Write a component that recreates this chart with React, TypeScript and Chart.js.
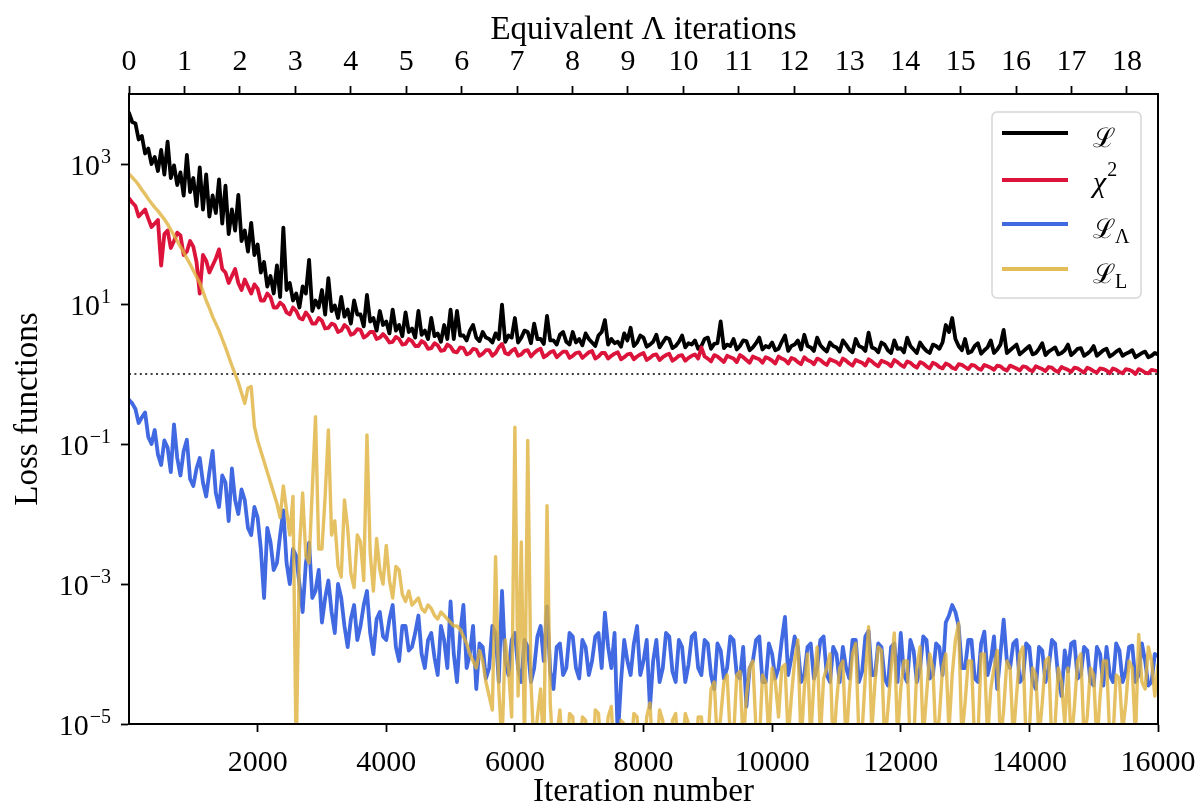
import React, { useEffect, useRef } from 'react';
import { Chart, registerables } from 'chart.js';

Chart.register(...registerables);

const SERIF = '"Liberation Serif", "DejaVu Serif", serif';

// curves are read every 100 iterations, plus a half-step value in between
const ITER_STEP = 100;
const ITER_MAX = 16000;
// equivalent Lambda iterations at the right edge of the frame
const LAMBDA_MAX = 18.56;

const bottomTicks = [2000, 4000, 6000, 8000, 10000, 12000, 14000, 16000];
const topTicks = [0, 1, 2, 3, 4, 5, 6, 7, 8, 9, 10, 11, 12, 13, 14, 15, 16, 17, 18];
const yExponents = [-5, -3, -1, 1, 3];

// log10 of each loss at iterations 0, 100, ..., 16000
const blackLog = [
  3.73, 3.58, 3.40, 3.22, 3.10, 3.20, 3.32, 2.98, 2.88, 3.13,
  2.80, 2.95, 2.85, 2.55, 2.78, 2.69, 2.35, 2.56, 2.05, 2.16,
  1.85, 1.60, 1.40, 1.55, 2.09, 1.30, 1.15, 1.25, 1.63, 1.05,
  1.20, 1.37, 0.98, 1.10, 0.92, 1.05, 0.85, 1.13, 0.80, 0.90,
  0.75, 0.92, 0.70, 0.88, 0.65, 0.90, 0.62, 0.80, 0.58, 0.70,
  0.92, 0.90, 0.55, 0.62, 0.52, 0.60, 0.50, 0.58, 0.99, 0.55,
  0.80, 0.52, 0.60, 0.72, 0.50, 0.83, 0.48, 0.56, 0.46, 0.60,
  0.50, 0.58, 0.45, 0.55, 0.77, 0.50, 0.46, 0.58, 0.66, 0.45,
  0.52, 0.42, 0.56, 0.45, 0.50, 0.40, 0.55, 0.44, 0.48, 0.40,
  0.52, 0.43, 0.75, 0.42, 0.50, 0.40, 0.47, 0.38, 0.52, 0.40,
  0.45, 0.36, 0.55, 0.40, 0.48, 0.56, 0.38, 0.52, 0.36, 0.45,
  0.38, 0.48, 0.35, 0.50, 0.38, 0.59, 0.36, 0.45, 0.34, 0.48,
  0.37, 0.52, 0.35, 0.45, 0.33, 0.42, 0.36, 0.70, 0.80, 0.40,
  0.50, 0.32, 0.44, 0.34, 0.48, 0.35, 0.63, 0.34, 0.42, 0.32,
  0.40, 0.30, 0.44, 0.32, 0.38, 0.30, 0.42, 0.31, 0.37, 0.29,
  0.40, 0.30, 0.36, 0.28, 0.35, 0.29, 0.34, 0.27, 0.32, 0.26,
  0.28,
];
// log10 at iterations 50, 150, ..., 15950
const blackMidLog = [
  3.60, 3.35, 3.15, 3.00, 2.90, 2.85, 2.80, 2.70, 2.55, 2.60,
  2.40, 2.35, 2.25, 2.30, 2.15, 2.00, 2.05, 1.90, 1.75, 1.70,
  1.45, 1.25, 1.15, 1.10, 1.20, 1.05, 0.95, 1.15, 0.90, 0.95,
  0.85, 0.90, 0.80, 0.82, 0.72, 0.85, 0.68, 0.75, 0.62, 0.70,
  0.58, 0.62, 0.54, 0.60, 0.52, 0.56, 0.50, 0.54, 0.46, 0.50,
  0.50, 0.55, 0.48, 0.70, 0.47, 0.52, 0.45, 0.50, 0.46, 0.52,
  0.45, 0.62, 0.44, 0.50, 0.43, 0.48, 0.42, 0.60, 0.42, 0.45,
  0.41, 0.50, 0.40, 0.60, 0.42, 0.44, 0.39, 0.48, 0.40, 0.55,
  0.39, 0.46, 0.38, 0.52, 0.37, 0.46, 0.38, 0.42, 0.36, 0.50,
  0.36, 0.44, 0.37, 0.40, 0.35, 0.48, 0.34, 0.44, 0.35, 0.38,
  0.34, 0.46, 0.33, 0.42, 0.35, 0.40, 0.33, 0.41, 0.32, 0.40,
  0.32, 0.42, 0.31, 0.40, 0.33, 0.38, 0.31, 0.42, 0.30, 0.36,
  0.31, 0.40, 0.30, 0.38, 0.30, 0.40, 0.45, 0.60, 0.50, 0.34,
  0.30, 0.40, 0.29, 0.38, 0.30, 0.42, 0.30, 0.38, 0.28, 0.36,
  0.28, 0.36, 0.27, 0.35, 0.28, 0.34, 0.27, 0.36, 0.26, 0.33,
  0.26, 0.34, 0.25, 0.32, 0.26, 0.31, 0.24, 0.30, 0.24, 0.30,
];

const redLog = [
  2.51, 2.40, 2.30, 2.22, 2.15, 1.55, 2.05, 1.90, 1.98, 1.75,
  1.82, 1.15, 1.62, 1.55, 1.78, 1.45, 1.40, 1.30, 1.35, 1.15,
  1.22, 1.05, 1.10, 0.95, 0.98, 0.85, 0.90, 0.78, 0.82, 0.72,
  0.76, 0.66, 0.70, 0.62, 0.66, 0.58, 0.63, 0.55, 0.60, 0.52,
  0.52, 0.46, 0.50, 0.43, 0.47, 0.40, 0.44, 0.37, 0.41, 0.34,
  0.39, 0.31, 0.37, 0.30, 0.35, 0.29, 0.34, 0.30, 0.43, 0.28,
  0.36, 0.28, 0.34, 0.30, 0.36, 0.27, 0.33, 0.28, 0.32, 0.26,
  0.31, 0.27, 0.33, 0.25, 0.30, 0.26, 0.31, 0.24, 0.29, 0.25,
  0.30, 0.23, 0.28, 0.24, 0.29, 0.22, 0.27, 0.23, 0.28, 0.38,
  0.22, 0.27, 0.21, 0.26, 0.22, 0.27, 0.20, 0.25, 0.21, 0.24,
  0.19, 0.25, 0.20, 0.23, 0.17, 0.24, 0.18, 0.22, 0.16, 0.21,
  0.17, 0.22, 0.15, 0.20, 0.16, 0.21, 0.14, 0.19, 0.15, 0.20,
  0.13, 0.18, 0.12, 0.17, 0.11, 0.16, 0.10, 0.15, 0.09, 0.14,
  0.10, 0.13, 0.08, 0.13, 0.09, 0.12, 0.07, 0.12, 0.08, 0.11,
  0.06, 0.11, 0.07, 0.10, 0.05, 0.10, 0.06, 0.09, 0.05, 0.09,
  0.04, 0.08, 0.05, 0.08, 0.03, 0.07, 0.04, 0.07, 0.02, 0.06,
  0.04,
];
const redMidLog = [
  2.45, 2.25, 2.35, 2.10, 2.20, 2.00, 1.80, 2.02, 1.70, 1.90,
  1.60, 1.70, 1.45, 1.65, 1.50, 1.30, 1.50, 1.20, 1.25, 1.28,
  1.05, 1.15, 0.95, 1.02, 0.88, 0.95, 0.80, 0.88, 0.72, 0.80,
  0.65, 0.72, 0.60, 0.70, 0.56, 0.64, 0.52, 0.60, 0.50, 0.57,
  0.45, 0.53, 0.42, 0.50, 0.40, 0.47, 0.36, 0.44, 0.33, 0.42,
  0.32, 0.38, 0.28, 0.36, 0.26, 0.34, 0.26, 0.38, 0.30, 0.33,
  0.26, 0.33, 0.25, 0.34, 0.24, 0.31, 0.24, 0.32, 0.23, 0.30,
  0.23, 0.31, 0.22, 0.30, 0.22, 0.29, 0.21, 0.28, 0.21, 0.28,
  0.20, 0.27, 0.20, 0.27, 0.19, 0.26, 0.19, 0.26, 0.22, 0.25,
  0.18, 0.25, 0.17, 0.24, 0.17, 0.24, 0.16, 0.23, 0.16, 0.22,
  0.15, 0.22, 0.15, 0.21, 0.14, 0.20, 0.14, 0.20, 0.13, 0.19,
  0.13, 0.19, 0.12, 0.18, 0.12, 0.18, 0.11, 0.17, 0.11, 0.17,
  0.10, 0.16, 0.09, 0.15, 0.08, 0.14, 0.08, 0.13, 0.07, 0.13,
  0.07, 0.12, 0.06, 0.11, 0.06, 0.11, 0.05, 0.10, 0.05, 0.10,
  0.04, 0.09, 0.04, 0.09, 0.03, 0.08, 0.03, 0.08, 0.02, 0.07,
  0.02, 0.07, 0.01, 0.06, 0.01, 0.06, 0.00, 0.05, 0.01, 0.05,
];

const blueLog = [
  -0.37, -0.50, -0.62, -0.90, -0.80, -1.30, -1.05, -0.72, -1.45, -0.94,
  -1.60, -1.20, -1.75, -1.10, -1.90, -1.55, -1.35, -2.00, -1.80, -2.30,
  -2.05, -3.20, -2.40, -2.70, -1.95, -3.00, -2.60, -3.40, -2.41, -3.10,
  -3.55, -2.95, -3.70, -3.20, -3.90, -3.30, -3.60, -3.10, -4.00, -3.40,
  -3.80, -3.30, -4.10, -3.60, -3.90, -3.45, -4.20, -3.70, -4.30, -3.80,
  -3.25, -4.40, -3.30, -4.00, -4.50, -3.90, -4.20, -3.70, -3.10, -4.30,
  -3.70, -4.40, -3.90, -4.20, -3.60, -3.32, -4.50, -3.85, -4.20, -3.75,
  -4.35, -3.90, -4.10, -3.70, -3.41, -4.20, -5.20, -3.80, -4.30, -3.60,
  -4.10, -4.77, -3.80, -4.20, -3.75, -4.40, -3.90, -4.15, -3.70, -4.30,
  -3.85, -4.50, -3.95, -4.20, -3.80, -4.35, -4.75, -4.10, -3.75, -4.40,
  -4.00, -4.20, -3.47, -4.05, -3.90, -4.30, -3.85, -4.20, -3.75, -4.40,
  -4.00, -3.90, -4.35, -3.80, -4.25, -3.67, -4.30, -3.90, -4.45, -3.85,
  -3.70, -4.40, -3.95, -4.20, -3.80, -4.30, -3.90, -3.55, -3.30, -3.60,
  -4.20, -3.80, -4.40, -3.68, -4.10, -4.50, -3.51, -4.20, -3.80, -4.35,
  -3.90, -4.50, -3.95, -4.20, -3.85, -4.60, -4.25, -3.82, -4.30, -3.95,
  -4.45, -4.00, -3.90, -4.40, -3.95, -4.25, -3.88, -4.30, -4.10, -4.40,
  -4.03,
];
const blueMidLog = [
  -0.42, -0.70, -0.55, -1.00, -1.15, -0.95, -1.40, -1.20, -1.10, -1.50,
  -1.35, -1.55, -1.40, -1.70, -1.45, -2.10, -1.80, -1.65, -2.20, -1.90,
  -2.50, -2.20, -2.80, -2.30, -2.70, -2.50, -3.00, -2.70, -3.20, -2.80,
  -3.20, -3.40, -3.00, -3.60, -3.50, -3.80, -3.30, -3.70, -3.50, -3.75,
  -3.50, -3.90, -3.60, -3.95, -3.70, -4.00, -3.80, -4.05, -3.60, -4.20,
  -4.00, -3.70, -4.20, -3.60, -3.85, -4.35, -3.60, -4.40, -4.10, -3.80,
  -4.20, -3.80, -4.40, -3.75, -4.10, -4.25, -3.90, -4.30, -3.70, -4.20,
  -3.80, -4.30, -3.75, -4.20, -3.90, -3.70, -4.40, -4.10, -3.85, -4.30,
  -3.80, -4.10, -4.40, -3.70, -4.25, -3.80, -4.40, -3.75, -4.20, -3.80,
  -4.30, -3.85, -4.35, -3.75, -4.30, -3.90, -4.20, -3.80, -4.40, -3.85,
  -4.35, -3.80, -4.30, -3.75, -4.40, -3.90, -4.35, -3.80, -4.30, -3.90,
  -4.40, -4.20, -3.80, -4.40, -3.75, -4.30, -3.85, -4.35, -3.90, -4.40,
  -4.30, -3.80, -4.40, -3.75, -4.35, -3.85, -4.30, -3.45, -3.40, -4.20,
  -3.80, -4.35, -3.85, -4.30, -3.75, -4.00, -4.10, -3.85, -4.40, -3.85,
  -4.40, -3.90, -4.40, -3.80, -4.35, -3.95, -3.85, -4.35, -3.90, -4.40,
  -3.90, -4.45, -4.30, -3.85, -4.40, -3.90, -4.40, -3.85, -4.45, -4.00,
];

const goldLog = [
  2.86, 2.76, 2.63, 2.50, 2.38, 2.27, 2.14, 1.98, 1.82, 1.65,
  1.48, 1.30, 1.05, 0.82, 0.62, 0.38, 0.12, -0.12, -0.42, -0.18,
  -0.95, -1.25, -1.55, -1.85, -1.60, -2.30, -5.50, -1.70, -2.70, -0.61,
  -2.50, -0.80, -2.10, -2.90, -2.20, -3.05, -2.40, -0.87, -3.10, -2.80,
  -2.45, -3.20, -2.80, -3.25, -3.30, -3.20, -3.40, -3.35, -3.50, -3.45,
  -3.55, -3.60, -3.75, -4.00, -4.20, -4.10, -4.60, -2.61, -5.30, -4.20,
  -0.76, -2.40, -0.95, -5.40, -4.50, -1.88, -5.50, -4.80, -5.60, -4.90,
  -5.50, -4.95, -5.70, -4.85, -5.50, -4.75, -5.60, -5.00, -5.40, -4.90,
  -5.60, -4.70, -5.50, -4.95, -5.60, -4.85, -5.40, -5.00, -5.70, -4.90,
  -5.30, -4.40, -4.90, -4.30, -5.20, -4.25, -4.60, -4.10, -5.30, -4.40,
  -4.20, -4.90, -4.15, -4.60, -3.80, -4.50, -5.20, -3.90, -4.35, -4.00,
  -4.70, -4.10, -4.55, -3.85, -5.10, -3.61, -4.40, -3.95, -4.80, -3.70,
  -4.50, -4.10, -5.30, -3.90, -4.60, -4.20, -4.90, -4.00, -4.30, -3.56,
  -4.70, -4.10, -5.20, -4.00, -4.50, -3.95, -4.80, -4.20, -4.60, -3.90,
  -5.10, -4.30, -4.70, -4.05, -5.00, -4.40, -4.20, -4.75, -4.00, -4.90,
  -4.30, -4.60, -4.10, -5.20, -4.35, -4.70, -4.20, -3.72, -4.50, -4.10,
  -4.15,
];
const goldMidLog = [
  2.81, 2.70, 2.57, 2.44, 2.33, 2.21, 2.06, 1.90, 1.74, 1.57,
  1.39, 1.18, 0.94, 0.72, 0.50, 0.25, 0.00, -0.27, -0.20, -0.75,
  -1.10, -1.40, -1.70, -2.05, -1.95, -1.75, -2.50, -2.60, -1.65, -2.50,
  -1.75, -2.30, -2.75, -1.80, -2.85, -2.30, -2.95, -2.55, -2.35, -3.00,
  -2.95, -2.75, -3.15, -3.10, -3.25, -3.35, -3.30, -3.45, -3.40, -3.50,
  -3.60, -3.65, -3.85, -4.10, -3.95, -4.40, -4.80, -4.50, -3.80, -4.90,
  -4.60, -5.30, -4.40, -4.90, -5.40, -4.70, -5.20, -5.50, -4.85, -5.60,
  -4.90, -5.60, -4.80, -5.50, -4.90, -5.60, -4.95, -5.50, -4.85, -5.60,
  -4.90, -5.50, -4.80, -5.60, -4.95, -5.50, -4.85, -5.60, -4.90, -5.40,
  -4.50, -5.30, -4.40, -5.20, -4.30, -5.30, -4.20, -5.10, -4.30, -5.20,
  -4.40, -4.20, -5.20, -4.10, -5.30, -4.00, -4.40, -5.20, -4.20, -5.40,
  -4.20, -5.30, -4.00, -5.20, -4.30, -5.10, -3.90, -5.30, -4.20, -5.20,
  -4.10, -5.40, -4.20, -5.20, -4.00, -5.30, -4.20, -5.10, -3.80, -5.20,
  -4.10, -5.30, -4.00, -5.20, -4.20, -5.30, -4.10, -5.20, -4.00, -5.30,
  -4.20, -5.20, -4.10, -5.30, -4.20, -5.00, -5.30, -4.10, -5.20, -4.20,
  -5.30, -4.10, -5.20, -4.30, -5.10, -4.10, -5.20, -4.40, -3.90, -4.60,
];

// interleave the whole-step and half-step readings into {x, y} points
const toPoints = (logs: number[], mids: number[]) => {
  const pts: { x: number; y: number }[] = [];
  logs.forEach((v, i) => {
    pts.push({ x: i * ITER_STEP, y: Math.pow(10, v) });
    if (i < mids.length) pts.push({ x: i * ITER_STEP + ITER_STEP / 2, y: Math.pow(10, mids[i]) });
  });
  return pts;
};

const legendRows = [
  { color: '#000000', main: 'ℒ', sup: '', sub: '' },
  { color: '#dc143c', main: 'χ', sup: '2', sub: '' },
  { color: '#4169e1', main: 'ℒ', sup: '', sub: 'Λ' },
  { color: 'rgba(222,178,60,0.85)', main: 'ℒ', sup: '', sub: 'L' },
];

const decorPlugin = {
  id: 'decor',
  afterDatasetsDraw(chart: any) {
    const { ctx, chartArea: a } = chart;
    ctx.save();
    // frame
    ctx.strokeStyle = '#000';
    ctx.lineWidth = 2;
    ctx.strokeRect(a.left, a.top, a.right - a.left, a.bottom - a.top);

    // legend
    const bx = a.right - 166;
    const by = a.top + 18;
    const bw = 149;
    const bh = 186;
    ctx.beginPath();
    ctx.roundRect(bx, by, bw, bh, 5);
    ctx.fillStyle = 'rgba(255,255,255,0.8)';
    ctx.fill();
    ctx.strokeStyle = 'rgba(210,210,210,0.9)';
    ctx.lineWidth = 1.5;
    ctx.stroke();

    const rowY = [133, 180, 224, 269].map((y) => y - 94 + a.top);
    legendRows.forEach((row, i) => {
      const y = rowY[i];
      ctx.strokeStyle = row.color;
      ctx.lineWidth = 4;
      ctx.beginPath();
      ctx.moveTo(bx + 10, y);
      ctx.lineTo(bx + 76, y);
      ctx.stroke();

      const tx = bx + 101;
      ctx.fillStyle = '#000';
      ctx.textAlign = 'left';
      ctx.textBaseline = 'alphabetic';
      if (row.main === 'χ') {
        ctx.font = `italic 30px ${SERIF}`;
        ctx.fillText(row.main, tx, y + 12);
        const w = ctx.measureText(row.main).width;
        ctx.font = `20px ${SERIF}`;
        ctx.fillText(row.sup, tx + w + 1, y - 4);
      } else {
        ctx.font = `27px "DejaVu Serif", serif`;
        ctx.fillText(row.main, tx, y + 14);
        const w = ctx.measureText(row.main).width;
        if (row.sub) {
          ctx.font = `20px ${SERIF}`;
          ctx.fillText(row.sub, tx + w, y + 19);
        }
      }
    });
    ctx.restore();
  },
  afterDraw(chart: any) {
    const { ctx, chartArea: a, scales } = chart;
    ctx.save();
    ctx.fillStyle = '#000';

    // y tick labels 10^n
    const yScale = scales.y;
    const right = a.left - 18;
    yExponents.forEach((e) => {
      const py = yScale.getPixelForValue(Math.pow(10, e));
      const expText = e < 0 ? '\u2212' + Math.abs(e) : String(e);
      ctx.font = `20px ${SERIF}`;
      ctx.textAlign = 'right';
      ctx.textBaseline = 'alphabetic';
      ctx.fillText(expText, right, py - 1);
      const ew = ctx.measureText(expText).width;
      ctx.font = `30px ${SERIF}`;
      ctx.fillText('10', right - ew - 1, py + 11);
    });

    // axis titles
    ctx.font = `33px ${SERIF}`;
    ctx.textAlign = 'center';
    ctx.textBaseline = 'middle';
    const cx = (a.left + a.right) / 2;
    ctx.fillText('Iteration number', cx, 792);
    ctx.fillText('Equivalent Λ iterations', cx, 30);
    ctx.translate(28, (a.top + a.bottom) / 2);
    ctx.rotate(-Math.PI / 2);
    ctx.fillText('Loss functions', 0, 0);
    ctx.restore();
  },
};

const tickGrid = {
  drawOnChartArea: false,
  drawTicks: true,
  tickLength: 8,
  tickWidth: 1.8,
  tickColor: '#000',
};
const axisBorder = { display: true, color: '#000', width: 2 };

// keep the frame edges fixed instead of letting edge labels push them in
const fixHorizontal = (height: number) => (s: any) => {
  s.height = height;
  s.paddingLeft = 0;
  s.paddingRight = 0;
};

export default function App() {
  const canvasRef = useRef<HTMLCanvasElement>(null);

  useEffect(() => {
    document.body.style.margin = '0';
    if (!canvasRef.current) return;
    const ctx = canvasRef.current.getContext('2d');
    if (!ctx) return;

    const lineStyle = {
      borderWidth: 3.8,
      pointRadius: 0,
      tension: 0,
      borderJoinStyle: 'round' as const,
      borderCapStyle: 'round' as const,
      clip: 0,
    };

    const chart = new Chart(ctx, {
      type: 'line',
      data: {
        datasets: [
          { label: 'L', data: toPoints(blackLog, blackMidLog), borderColor: '#000000', order: 4, ...lineStyle },
          { label: 'chi2', data: toPoints(redLog, redMidLog), borderColor: '#dc143c', order: 3, ...lineStyle },
          { label: 'L_Lambda', data: toPoints(blueLog, blueMidLog), borderColor: '#4169e1', order: 2, ...lineStyle },
          { label: 'L_L', data: toPoints(goldLog, goldMidLog), borderColor: 'rgba(222,178,60,0.8)', order: 1, ...lineStyle, borderWidth: 3.4 },
          {
            label: 'unity',
            data: [{ x: 0, y: 1 }, { x: ITER_MAX, y: 1 }],
            borderColor: '#000000',
            borderWidth: 1.6,
            borderDash: [2, 3.4],
            pointRadius: 0,
            order: 5,
          },
        ],
      },
      options: {
        animation: false,
        responsive: true,
        maintainAspectRatio: false,
        parsing: false,
        layout: { padding: { left: 0, right: 42, top: 0, bottom: 0 } },
        plugins: { legend: { display: false }, tooltip: { enabled: false } },
        scales: {
          x: {
            type: 'linear',
            position: 'bottom',
            min: 0,
            max: ITER_MAX,
            afterBuildTicks: (s: any) => {
              s.ticks = bottomTicks.map((v) => ({ value: v }));
            },
            afterFit: fixHorizontal(84),
            ticks: {
              autoSkip: false,
              maxRotation: 0,
              padding: 13,
              color: '#000',
              font: { family: SERIF, size: 30 },
              callback: (v: any) => String(v),
            },
            grid: tickGrid,
            border: axisBorder,
          },
          xTop: {
            type: 'linear',
            position: 'top',
            display: true,
            min: 0,
            max: LAMBDA_MAX,
            afterBuildTicks: (s: any) => {
              s.ticks = topTicks.map((v) => ({ value: v }));
            },
            afterFit: fixHorizontal(94),
            ticks: {
              autoSkip: false,
              maxRotation: 0,
              padding: 6,
              color: '#000',
              font: { family: SERIF, size: 30 },
              callback: (v: any) => String(v),
            },
            grid: tickGrid,
            border: axisBorder,
          },
          y: {
            type: 'logarithmic',
            min: 1e-5,
            max: 1e4,
            afterBuildTicks: (s: any) => {
              s.ticks = yExponents.map((e) => ({ value: Math.pow(10, e) }));
            },
            afterFit: (s: any) => {
              s.width = 129;
            },
            ticks: { color: 'rgba(0,0,0,0)', font: { family: SERIF, size: 30 } },
            grid: tickGrid,
            border: axisBorder,
          },
        },
      } as any,
      plugins: [decorPlugin],
    });

    return () => {
      chart.destroy();
    };
  }, []);

  return (
    <div style={{ position: 'relative', width: 1200, height: 808 }}>
      <canvas ref={canvasRef} />
    </div>
  );
}
